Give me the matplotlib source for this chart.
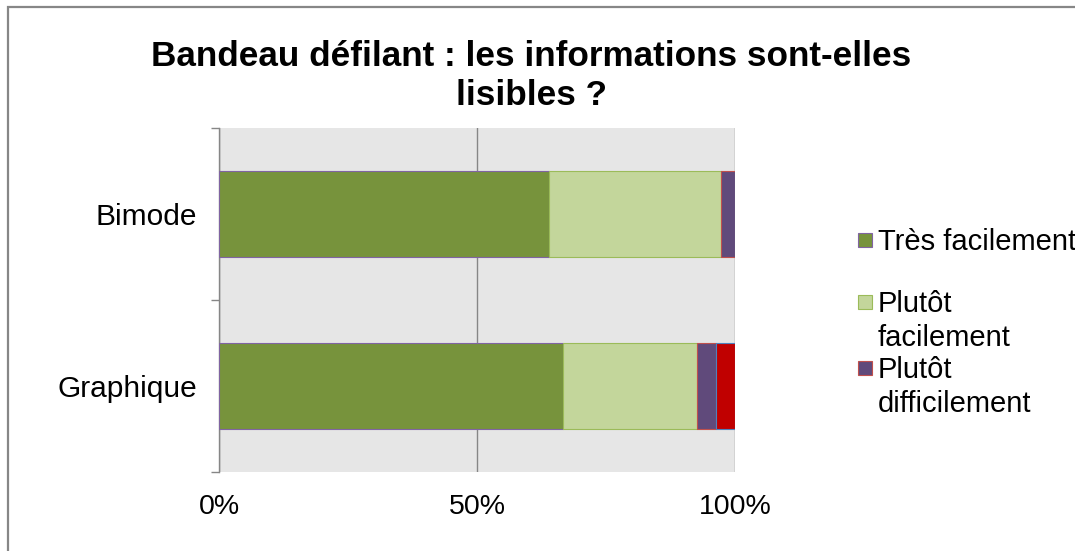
import matplotlib.pyplot as plt
import matplotlib.patches as patches
import numpy as np

plt.rcParams["font.family"] = ["Liberation Sans", "DejaVu Sans"]

# share of answers per display mode (in %)
categories = ["Graphique", "Bimode"]
series = ["Très facilement", "Plutôt facilement", "Plutôt difficilement", "Très difficilement"]
values = {
    "Très facilement": [66.7, 63.9],
    "Plutôt facilement": [25.9, 33.3],
    "Plutôt difficilement": [3.7, 2.8],
    "Très difficilement": [3.7, 0.0],
}
legend_labels = ["Très facilement", "Plutôt\nfacilement", "Plutôt\ndifficilement"]
xtick_labels = ["0%", "50%", "100%"]

face_colors = ["#77933C", "#C3D69B", "#604A7B", "#C00000"]
edge_colors = ["#8064A2", "#9BBB59", "#C0504D", "#4F81BD"]

W, H = 1075, 551
fig = plt.figure(figsize=(W / 100, H / 100), dpi=100)

# outer chart frame
fig.patches.append(patches.Rectangle((8 / W, -0.2), 1.2, 1.2 - 7 / H, transform=fig.transFigure,
                                     fill=False, edgecolor="#878787", linewidth=1.6))

ax = fig.add_axes([219 / W, 1 - 472 / H, (735 - 219) / W, (472 - 128) / H])
ax.set_facecolor("#E6E6E6")

y = np.arange(len(categories))
left = np.zeros(len(categories))
for name, fc, ec in zip(series, face_colors, edge_colors):
    v = np.array(values[name]) / 100
    ax.barh(y, v, left=left, height=0.5, color=fc, edgecolor=ec, linewidth=0.8, zorder=3)
    left += v

ax.set_xlim(0, 1)
ax.set_ylim(-0.5, 1.5)
ax.set_xticks([0, 0.5, 1])
ax.set_xticklabels(xtick_labels, fontsize=20.5)
ax.tick_params(axis="x", length=0, pad=16)
ax.set_yticks(y)
ax.set_yticklabels(categories, fontsize=21.5)
ax.tick_params(axis="y", which="major", length=0, pad=16)
ax.set_yticks([-0.5, 0.5, 1.5], minor=True)
ax.tick_params(axis="y", which="minor", length=6, width=1, color="#868686", direction="out")

ax.xaxis.grid(True, color="#868686", linewidth=1)
ax.set_axisbelow(True)
for side in ["top", "right", "bottom"]:
    ax.spines[side].set_visible(False)
ax.spines["left"].set_color("#868686")
ax.spines["left"].set_linewidth(1)

fig.text(0.494, 1 - 76 / H, "Bandeau défilant : les informations sont-elles\nlisibles ?",
         ha="center", va="center", multialignment="center", fontsize=25.3, fontweight="bold",
         linespacing=1.2)

# legend drawn by hand so the wrapped labels sit like the original
legend_y = [240, 302, 368]
for label, ly, fc, ec in zip(legend_labels, legend_y, face_colors, edge_colors):
    fig.patches.append(patches.Rectangle((858 / W, 1 - (ly + 7) / H), 14 / W, 14 / H,
                                         transform=fig.transFigure, facecolor=fc, edgecolor=ec,
                                         linewidth=0.8))
    fig.text(878 / W, 1 - (ly - 12) / H, label, ha="left", va="top", fontsize=21, linespacing=1.29)

fig.savefig("out.png", dpi=100)
